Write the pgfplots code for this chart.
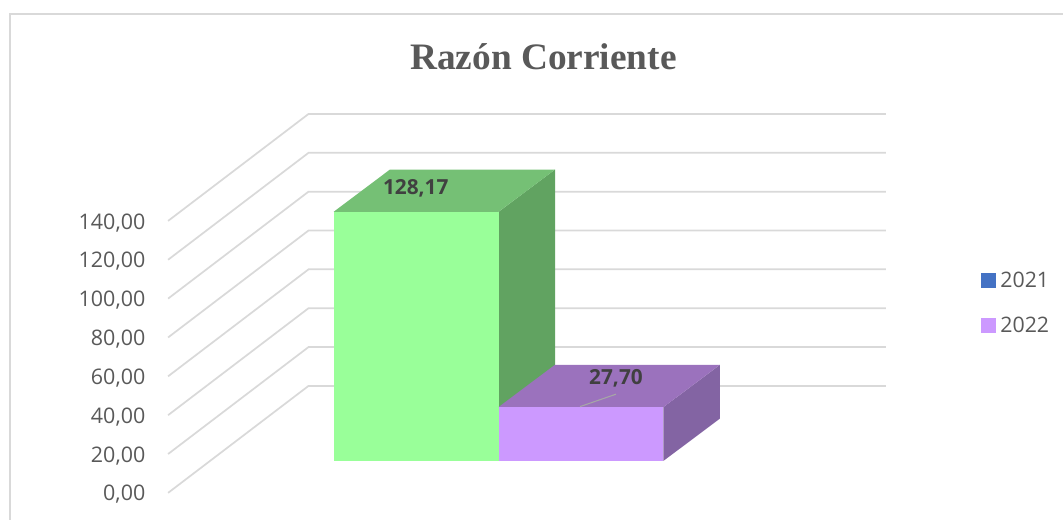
\documentclass[border=0pt]{standalone}
\usepackage{fontspec}
\usepackage{pgfplots}
\pgfplotsset{compat=1.18}
\setmainfont{Open Sans}
\newfontfamily\titlefont{Liberation Serif}
\definecolor{gridc}{HTML}{D9D9D9}
\definecolor{txt}{HTML}{595959}
\definecolor{greenF}{HTML}{99FF99}
\definecolor{greenT}{HTML}{75C075}
\definecolor{greenS}{HTML}{61A361}
\definecolor{purpF}{HTML}{CC99FF}
\definecolor{purpT}{HTML}{9B72BD}
\definecolor{purpS}{HTML}{8364A3}
\definecolor{blueL}{HTML}{4472C4}
\begin{document}
\begin{tikzpicture}[x=1pt,y=1pt]
\begin{axis}[
  at={(0,0)}, anchor=south west,
  scale only axis,
  width=797.25pt, height=390pt,
  xmin=0, xmax=1063,
  ymin=-13.9, ymax=253.73,
  axis line style={draw=none},
  major tick length=0pt,
  xtick=\empty,
  ytick={0,20,40,60,80,100,120,140},
  /pgf/number format/.cd, assume math mode=true, fixed, fixed zerofill, precision=2, use comma, 1000 sep={},
  /pgfplots/.cd,
  yticklabel style={anchor=east, inner sep=0pt, xshift=109.1pt, yshift=-1.3pt, text=txt, font=\fontsize{16.1pt}{18pt}\selectfont},
  legend style={draw=none, fill=none, at={(axis cs:981,253.73-138.5)}, anchor=north west,
    inner sep=0pt, outer sep=0pt, row sep=16.6pt,
    font=\fontsize{16pt}{18pt}\selectfont, text=txt},
  legend cell align=left,
  legend image code/.code={\fill[#1] (0pt,-5.25pt) rectangle (10.5pt,5.25pt); \path (12.2pt,0pt);},
]
% legend
\addlegendimage{blueL}\addlegendentry{2021}
\addlegendimage{purpF}\addlegendentry{2022}
% chart frame
\addplot[forget plot, gridc, line width=1.4pt] coordinates {(10,-13.9) (10,246.6) (1063,246.6)};
% gridlines
\pgfplotsset{gl/.style={forget plot, gridc, line width=1.3pt}}
\addplot[gl] coordinates {(168,0)   (308.5,55.07)  (886,55.07)};
\addplot[gl] coordinates {(168,20)  (308.5,75.07)  (886,75.07)};
\addplot[gl] coordinates {(168,40)  (308.5,95.07)  (886,95.07)};
\addplot[gl] coordinates {(168,60)  (308.5,115.07) (886,115.07)};
\addplot[gl] coordinates {(168,80)  (308.5,135.07) (886,135.07)};
\addplot[gl] coordinates {(168,100) (308.5,155.07) (886,155.07)};
\addplot[gl] coordinates {(168,120) (308.5,175.07) (886,175.07)};
\addplot[gl] coordinates {(168,140) (308.5,195.07) (886,195.07)};
% green bar: 128.17 above base 16.47
\addplot[forget plot, fill=greenS, draw=none] coordinates {(498.5,16.47) (555,38.24) (555,166.41) (498.5,144.64)} --cycle;
\addplot[forget plot, fill=greenT, draw=none] coordinates {(333.5,144.64) (498.5,144.64) (555,166.41) (389.8,166.41)} --cycle;
\addplot[forget plot, fill=greenF, draw=none] coordinates {(333.5,16.47) (498.5,16.47) (498.5,144.64) (333.5,144.64)} --cycle;
% purple bar: 27.70 above base 16.47
\addplot[forget plot, fill=purpS, draw=none] coordinates {(663.5,16.47) (720,38.24) (720,65.94) (663.5,44.17)} --cycle;
\addplot[forget plot, fill=purpT, draw=none] coordinates {(498.5,44.17) (663.5,44.17) (720,65.94) (555,65.94)} --cycle;
\addplot[forget plot, fill=purpF, draw=none] coordinates {(498.5,16.47) (663.5,16.47) (663.5,44.17) (498.5,44.17)} --cycle;
% leader line
\addplot[forget plot, color=black!35, line width=0.8pt] coordinates {(580,44.4) (616,50.8)};
% texts
\node[font=\titlefont\bfseries\fontsize{28pt}{32pt}\selectfont, text=txt] at (axis cs:543.5,224.5) {Razón Corriente};
\node[font=\bfseries\fontsize{15.6pt}{18pt}\selectfont, text=black!75] at (axis cs:415.7,157) {128,17};
\node[font=\bfseries\fontsize{15.6pt}{18pt}\selectfont, text=black!75] at (axis cs:616,59) {27,70};
\end{axis}
\end{tikzpicture}
\end{document}
